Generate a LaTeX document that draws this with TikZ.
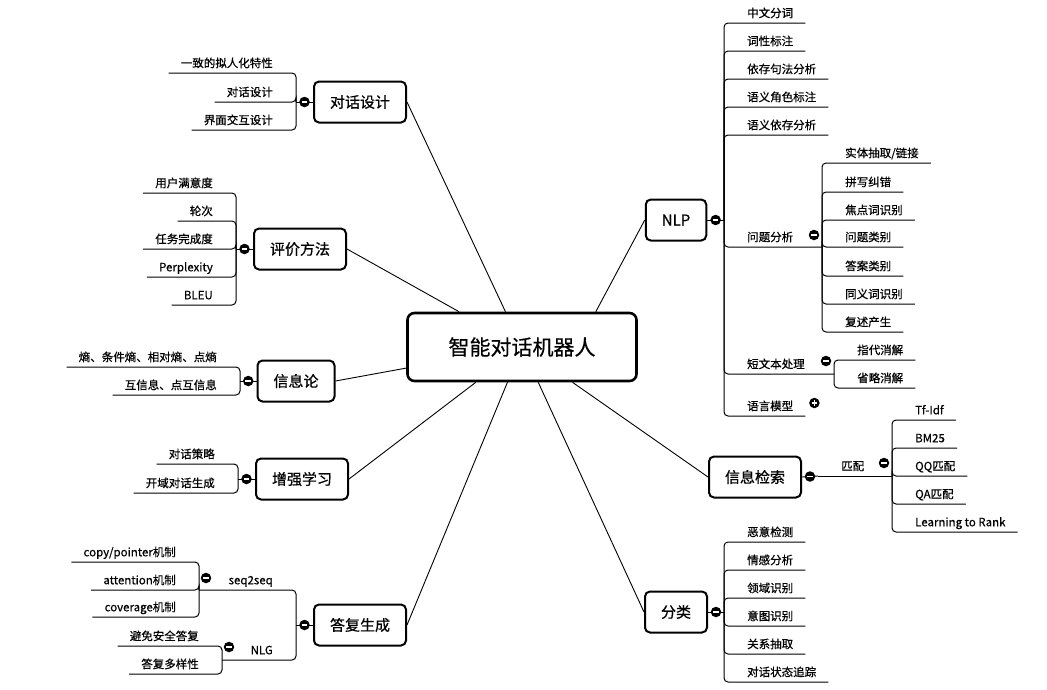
\documentclass[tikz,border=0pt]{standalone}
\usepackage{fontspec}
\setmainfont{Noto Sans CJK SC}[FakeBold=0.6]
\usepackage{tikz}
\usetikzlibrary{calc, positioning}

\begin{document}
\begin{tikzpicture}[x=1pt, y=-1pt,
    root/.style={draw, line width=2.6pt, rounded corners=7pt, minimum width=229pt, minimum height=68pt, font=\fontsize{21}{24}\selectfont},
    topic/.style={draw, line width=2pt, rounded corners=5pt, inner xsep=16pt, minimum height=41pt, font=\fontsize{15}{18}\selectfont},
    leaf/.style={inner xsep=12pt, inner ysep=5.5pt, text height=9pt, text depth=0pt, font=\fontsize{11.5}{13}\selectfont},
    leafL/.style={leaf, anchor=south east, xshift=-11pt},
    leafR/.style={leaf, anchor=south west, xshift=11pt},
    link/.style={line width=0.9pt},
    branch/.style={line width=1pt, rounded corners=4pt},
    fold/.style={circle, fill=black, inner sep=0pt, minimum size=10.5pt,
        path picture={\draw[white, line width=1.5pt] ([xshift=-2.8pt]path picture bounding box.center) -- ([xshift=2.8pt]path picture bounding box.center);}},
    unfold/.style={circle, fill=black, inner sep=0pt, minimum size=10.5pt,
        path picture={\draw[white, line width=1.5pt] ([xshift=-2.8pt]path picture bounding box.center) -- ([xshift=2.8pt]path picture bounding box.center)
            ([yshift=-2.8pt]path picture bounding box.center) -- ([yshift=2.8pt]path picture bounding box.center);}}
]
    \useasboundingbox (0,0) rectangle (1047,689);

    % Nút trung tâm
    \node[root] (root) at (522,347) {智能对话机器人};

    % Nhánh: 对话设计
    \node[topic] (dlg) at (360,102) {对话设计};
    \coordinate (dlgB) at (296,102);
    \foreach \y/\t [count=\i] in {73/一致的拟人化特性, 102/对话设计, 130/界面交互设计}{
        \node[leafL] (dlg\i) at (dlgB |- 0,\y) {\t};
        \draw[branch] (dlgB) |- (dlg\i.south west);
    }
    \draw[link] (dlg.west) -- (dlgB);
    \node[fold] (dlgF) at ($(dlg.west)!0.5!(dlgB)$) {};

    % Nhánh: 评价方法
    \node[topic] (eval) at (300,249) {评价方法};
    \coordinate (evalB) at (236,249);
    \foreach \y/\t [count=\i] in {193/用户满意度, 221/轮次, 249/任务完成度, 277/Perplexity, 305/BLEU}{
        \node[leafL] (eval\i) at (evalB |- 0,\y) {\t};
        \draw[branch] (evalB) |- (eval\i.south west);
    }
    \draw[link] (eval.west) -- (evalB);
    \node[fold] (evalF) at ($(eval.west)!0.5!(evalB)$) {};

    % Nhánh: 信息论
    \node[topic] (info) at (296,381) {信息论};
    \coordinate (infoB) at (240,381);
    \foreach \y/\t [count=\i] in {367/{熵、条件熵、相对熵、点熵}, 395/{互信息、点互信息}}{
        \node[leafL] (info\i) at (infoB |- 0,\y) {\t};
        \draw[branch] (infoB) |- (info\i.south west);
    }
    \draw[link] (info.west) -- (infoB);
    \node[fold] (infoF) at ($(info.west)!0.5!(infoB)$) {};

    % Nhánh: 增强学习
    \node[topic] (rl) at (302,479) {增强学习};
    \coordinate (rlB) at (238,479);
    \foreach \y/\t [count=\i] in {464/对话策略, 493/开域对话生成}{
        \node[leafL] (rl\i) at (rlB |- 0,\y) {\t};
        \draw[branch] (rlB) |- (rl\i.south west);
    }
    \draw[link] (rl.west) -- (rlB);
    \node[fold] (rlF) at ($(rl.west)!0.5!(rlB)$) {};

    % Nhánh: 答复生成
    \node[topic] (gen) at (360,625) {答复生成};
    \coordinate (genB) at (296,625);
    \coordinate (s2sB) at (199,590);
    \coordinate (nlgB) at (222,660);
    \node[leafL] (s2s) at (genB |- 0,590) {seq2seq};
    \node[leafL] (nlg) at (genB |- 0,660) {NLG};
    \draw[branch] (genB) |- (s2sB);
    \draw[branch] (genB) |- (nlgB);
    \foreach \y/\t [count=\i] in {562/{copy/pointer机制}, 590/attention机制, 617/coverage机制}{
        \node[leafL] (s2s\i) at (s2sB |- 0,\y) {\t};
        \draw[branch] (s2sB) |- (s2s\i.south west);
    }
    \foreach \y/\t [count=\i] in {646/避免安全答复, 674/答复多样性}{
        \node[leafL] (nlg\i) at (nlgB |- 0,\y) {\t};
        \draw[branch] (nlgB) |- (nlg\i.south west);
    }
    \draw[link] (gen.west) -- (genB);
    \node[fold] (genF) at ($(gen.west)!0.5!(genB)$) {};
    \node[fold] (s2sF) at ($(s2sB)+(7,-12)$) {};
    \node[fold] (nlgF) at ($(nlgB)+(7,-13)$) {};

    % Nhánh: NLP
    \node[topic] (nlp) at (676,220) {NLP};
    \coordinate (nlpB) at (724,220);
    \coordinate (qaB) at (822,247);
    \coordinate (stB) at (834,374);
    \foreach \y/\t [count=\i] in {23/中文分词, 51/词性标注, 79/依存句法分析, 107/语义角色标注, 135/语义依存分析, 416/语言模型}{
        \node[leafR] (nlp\i) at (nlpB |- 0,\y) {\t};
        \draw[branch] (nlpB) |- (nlp\i.south east);
    }
    \node[leafR] (qa) at (nlpB |- 0,247) {问题分析};
    \node[leafR] (st) at (nlpB |- 0,374) {短文本处理};
    \draw[branch] (nlpB) |- (qaB);
    \draw[branch] (nlpB) |- (stB);
    \foreach \y/\t [count=\i] in {163/{实体抽取/链接}, 192/拼写纠错, 220/焦点词识别, 247/问题类别, 276/答案类别, 304/同义词识别, 332/复述产生}{
        \node[leafR] (qa\i) at (qaB |- 0,\y) {\t};
        \draw[branch] (qaB) |- (qa\i.south east);
    }
    \foreach \y/\t [count=\i] in {360/指代消解, 388/省略消解}{
        \node[leafR] (st\i) at (stB |- 0,\y) {\t};
        \draw[branch] (stB) |- (st\i.south east);
    }
    \draw[link] (nlp.east) -- (nlpB);
    \node[fold] (nlpF) at ($(nlp.east)!0.5!(nlpB)$) {};
    \node[fold] (qaF) at ($(qaB)+(-8,-12)$) {};
    \node[fold] (stF) at ($(stB)+(-8,-13)$) {};
    \node[unfold] (lmF) at ($(nlp6.south east)+(9,-13)$) {};

    % Nhánh: 信息检索
    \node[topic] (ir) at (755,477) {信息检索};
    \coordinate (irB) at (818,476);
    \coordinate (mtB) at (892,476);
    \node[leafR] (mt) at (irB) {匹配};
    \draw[branch] (irB) -- (mtB);
    \foreach \y/\t [count=\i] in {420/Tf-Idf, 448/BM25, 476/QQ匹配, 504/QA匹配, 532/Learning to Rank}{
        \node[leafR] (mt\i) at (mtB |- 0,\y) {\t};
        \draw[branch] (mtB) |- (mt\i.south east);
    }
    \draw[link] (ir.east) -- (irB);
    \node[fold] (irF) at ($(ir.east)!0.5!(irB)$) {};
    \node[fold] (mtF) at ($(mtB)+(-8,-13)$) {};

    % Nhánh: 分类
    \node[topic] (cls) at (676,612) {分类};
    \coordinate (clsB) at (724,612);
    \foreach \y/\t [count=\i] in {542/恶意检测, 570/情感分析, 598/领域识别, 626/意图识别, 654/关系抽取, 682/对话状态追踪}{
        \node[leafR] (cls\i) at (clsB |- 0,\y) {\t};
        \draw[branch] (clsB) |- (cls\i.south east);
    }
    \draw[link] (cls.east) -- (clsB);
    \node[fold] (clsF) at ($(cls.east)!0.5!(clsB)$) {};

    % Nối các nhánh với nút trung tâm
    \draw[link] (dlg.east) -- (root);
    \draw[link] (eval.east) -- (root);
    \draw[link] (info.east) -- (root);
    \draw[link] (rl.east) -- (root);
    \draw[link] (gen.east) -- (root);
    \draw[link] (nlp.west) -- ([xshift=-42pt]root.north east);
    \draw[link] (ir.west) -- (root);
    \draw[link] (cls.west) -- (root);
\end{tikzpicture}
\end{document}
